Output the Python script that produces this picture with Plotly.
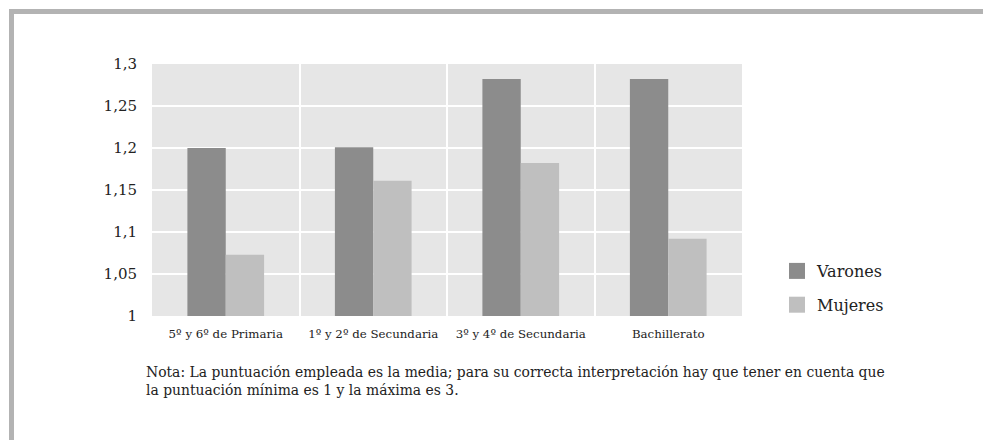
import plotly.graph_objects as go

categories = ["5º y 6º de Primaria", "1º y 2º de Secundaria", "3º y 4º de Secundaria", "Bachillerato"]
varones = [1.200, 1.201, 1.282, 1.282]
mujeres = [1.073, 1.161, 1.182, 1.092]
series_names = ["Varones", "Mujeres"]
y_range = [1, 1.3]
note = ("Nota: La puntuación empleada es la media; para su correcta interpretación hay que tener en cuenta que<br>"
        "la puntuación mínima es 1 y la máxima es 3.")

W, H = 983, 440
L, R, T, B = 152, 241, 64, 124
pw, ph = W - L - R, H - T - B

def px_x(x):
    return (x - L) / pw

def px_y(y):
    return (H - B - y) / ph

FONT = "DejaVu Serif, serif"
C_V = "#8c8c8c"
C_M = "#bfbfbf"

fig = go.Figure()
fig.add_trace(go.Bar(x=categories, y=varones, name=series_names[0], marker_color=C_V,
                     marker_line_width=0, showlegend=False))
fig.add_trace(go.Bar(x=categories, y=mujeres, name=series_names[1], marker_color=C_M,
                     marker_line_width=0, showlegend=False))
# legend entries
fig.add_trace(go.Scatter(x=[None], y=[None], mode="markers", name=series_names[0],
                         marker=dict(symbol="square", size=19, color=C_V), legendgroup="v"))
fig.add_trace(go.Scatter(x=[None], y=[None], mode="markers", name=series_names[1],
                         marker=dict(symbol="square", size=19, color=C_M), legendgroup="m"))

fig.update_layout(
    width=W, height=H,
    margin=dict(l=L, r=R, t=T, b=B, pad=0),
    paper_bgcolor="white",
    plot_bgcolor="#e6e6e6",
    barmode="group",
    bargap=0.48,
    bargroupgap=0,
    separators=",.",
    font=dict(family=FONT, color="#222222"),
    legend=dict(x=px_x(777), y=px_y(254), xanchor="left", yanchor="top",
                font=dict(size=16, family=FONT, color="#222222"),
                tracegroupgap=10, itemsizing="trace", bgcolor="rgba(0,0,0,0)"),
    xaxis=dict(type="category", showgrid=True, gridcolor="white", gridwidth=2,
               tickson="boundaries", ticks="", showline=False, zeroline=False,
               tickfont=dict(size=11.8, family=FONT, color="#222222"),
               ticklabelstandoff=9, range=[-0.5, 3.5]),
    yaxis=dict(range=y_range, dtick=0.05, tick0=1, showgrid=True, gridcolor="white",
               gridwidth=2, zeroline=False, showline=False, ticks="",
               tickfont=dict(size=15, family=FONT, color="#222222"),
               ticklabelstandoff=14),
    shapes=[
        dict(type="rect", xref="paper", yref="paper",
             x0=px_x(9), x1=px_x(W + 5), y0=px_y(14), y1=px_y(9),
             fillcolor="#b3b3b3", line_width=0, layer="above"),
        dict(type="rect", xref="paper", yref="paper",
             x0=px_x(9), x1=px_x(14), y0=px_y(H + 5), y1=px_y(9),
             fillcolor="#b3b3b3", line_width=0, layer="above"),
    ],
    annotations=[
        dict(text=note, xref="paper", yref="paper", x=px_x(144), y=px_y(362),
             xanchor="left", yanchor="top", align="left", showarrow=False,
             font=dict(size=13.9, family=FONT, color="#222222")),
    ],
)

fig.write_html("out.html")
